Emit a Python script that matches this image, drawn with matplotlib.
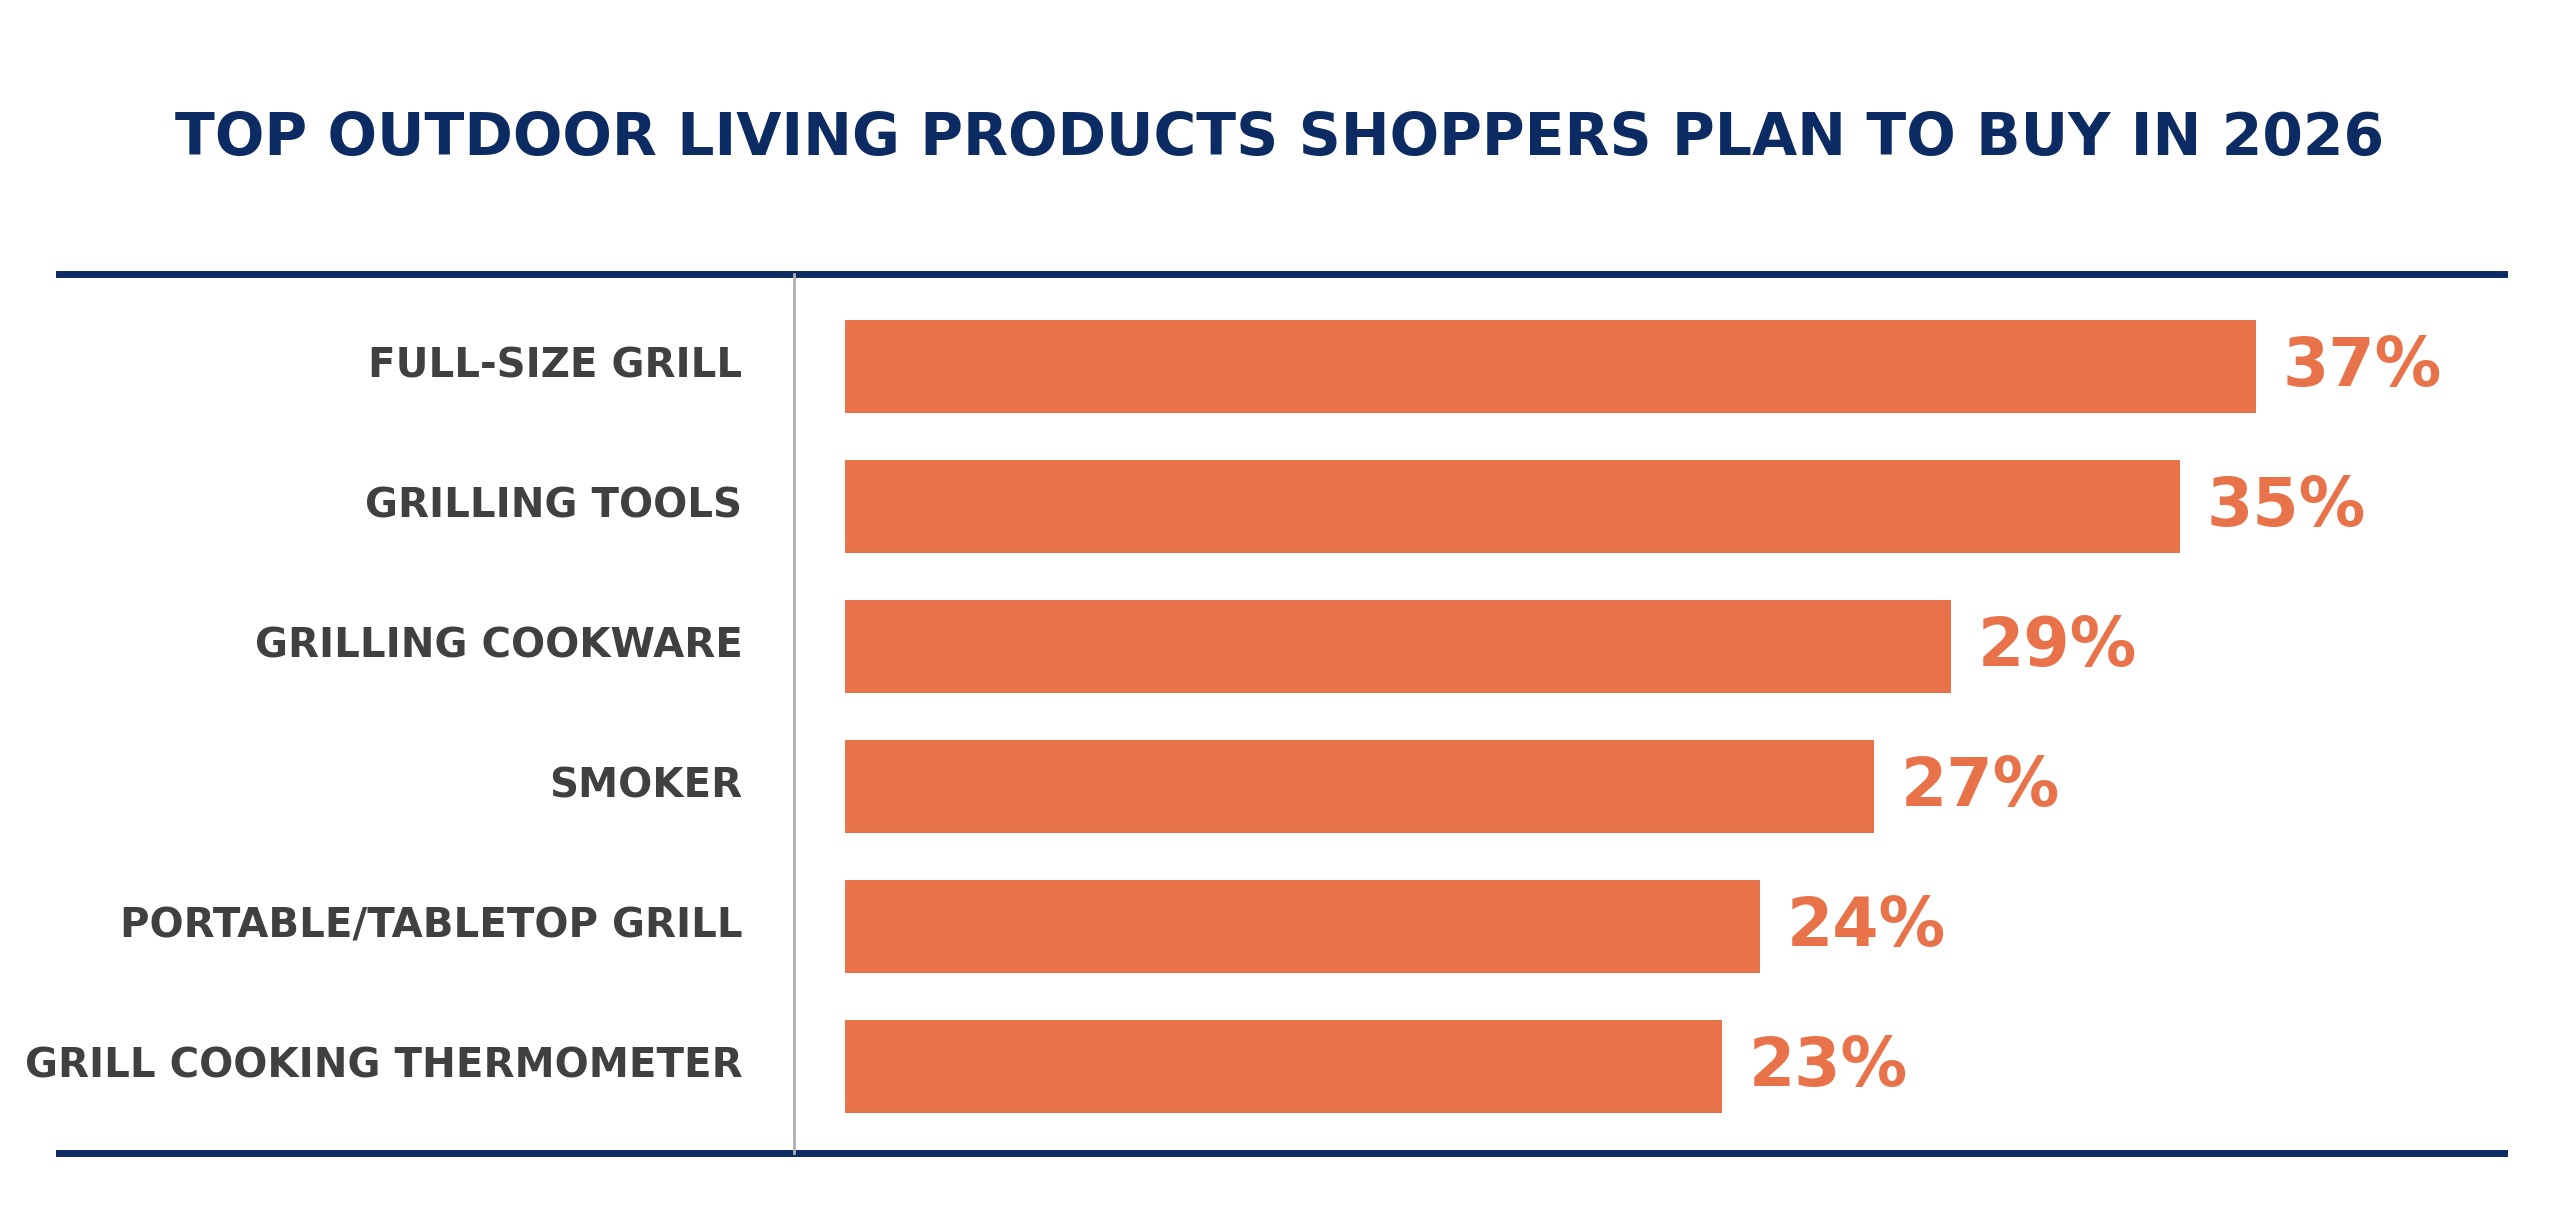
import matplotlib
matplotlib.use("Agg")
import matplotlib.pyplot as plt
from matplotlib.lines import Line2D

categories = ["FULL-SIZE GRILL", "GRILLING TOOLS", "GRILLING COOKWARE", "SMOKER",
              "PORTABLE/TABLETOP GRILL", "GRILL COOKING THERMOMETER"]
values = [37, 35, 29, 27, 24, 23]

NAVY = "#0c2b63"
ORANGE = "#e8734a"
GRAY = "#404040"
FONT = dict(family="DejaVu Sans", fontweight="bold")

fig = plt.figure(figsize=(25.6, 12.3), dpi=100)
fig.patch.set_facecolor("white")
ax = fig.add_axes([0.330, 0.0623, 0.978 - 0.330, 0.777 - 0.0623])
ypos = list(range(len(values)))
ax.barh(ypos, values, height=0.66, color=ORANGE)
ax.set_ylim(len(values) - 0.5 + 0.12, -0.5 - 0.16)
ax.set_xlim(0, 43.5)
ax.axis("off")
for y, v in zip(ypos, values):
    ax.text(v + 0.7, y, f"{v}%", va="center", ha="left", color=ORANGE, fontsize=48, **FONT)
for y, c in zip(ypos, categories):
    ax.annotate(c, xy=(0, y), xycoords="data", xytext=(-0.040 * 25.6 * 72, 0),
                textcoords="offset points", va="center", ha="right", color=GRAY,
                fontsize=29, **FONT)

fig.add_artist(Line2D([0.023, 0.978], [0.777, 0.777], color=NAVY, lw=5))
fig.add_artist(Line2D([0.023, 0.978], [0.0623, 0.0623], color=NAVY, lw=5))
fig.add_artist(Line2D([0.310, 0.310], [0.0623, 0.777], color="#b0b0b0", lw=2))
fig.text(0.5, 0.887, "TOP OUTDOOR LIVING PRODUCTS SHOPPERS PLAN TO BUY IN 2026",
         ha="center", va="center", color=NAVY, fontsize=42, **FONT)
fig.savefig("out.png", dpi=100)
